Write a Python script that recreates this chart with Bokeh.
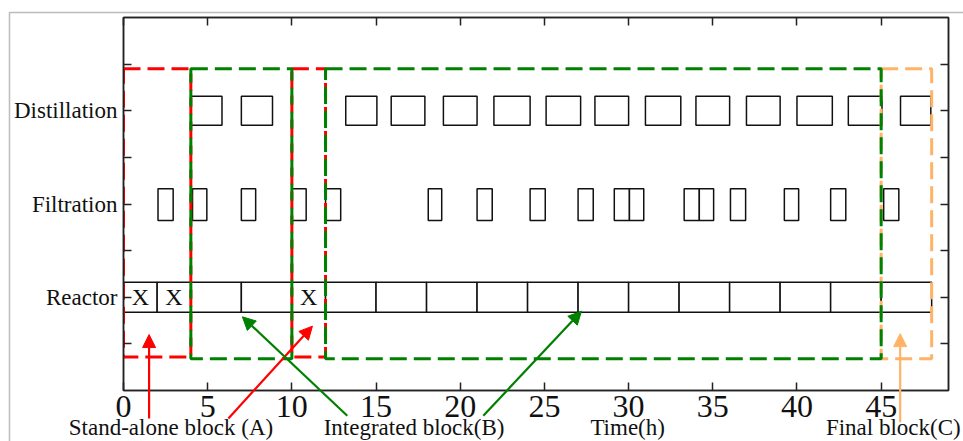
from bokeh.plotting import figure
from bokeh.models import (ColumnDataSource, FixedTicker, LinearAxis, Range1d,
                          Arrow, NormalHead, Label, BoxAnnotation)
from bokeh.core.properties import value
from bokeh.embed import file_html
from bokeh.resources import INLINE

FONT = "Liberation Serif"

# ---- data -------------------------------------------------------------
units = ["Reactor", "Filtration", "Distillation"]
unit_level = [1, 2, 3]

reactor_start = [0, 2, 4, 7, 10, 12, 15, 18, 21, 24, 27, 30, 33, 36, 39, 42, 45]
reactor_end = [2, 4, 7, 10, 12, 15, 18, 21, 24, 27, 30, 33, 36, 39, 42, 45, 48]
reactor_mark = ["X", "X", "", "", "X", "", "", "", "", "", "", "", "", "", "", "", ""]

filtration_start = [2.05, 4.1, 7.0, 10.0, 12.0, 18.1, 21.0, 24.15, 27.0, 29.15,
                    30.05, 33.3, 34.2, 36.05, 39.25, 42.0, 45.15]
filtration_end = [2.95, 4.95, 7.85, 10.85, 12.9, 18.9, 21.9, 25.05, 27.9, 30.05,
                  30.9, 34.2, 35.05, 36.95, 40.1, 42.9, 46.05]

distillation_start = [4.0, 7.0, 13.2, 15.9, 19.0, 22.0, 25.1, 28.0, 31.0, 34.0,
                      37.0, 40.0, 43.05, 46.15]
distillation_end = [5.85, 8.85, 15.05, 17.9, 21.0, 24.15, 27.15, 30.0, 33.1, 36.0,
                    39.0, 42.1, 45.05, 47.95]

block_kind = ["A", "A", "B", "B", "C"]
block_start = [0, 10, 4, 12, 45]
block_end = [4, 12, 10, 45, 48]

x_ticks = [0, 5, 10, 15, 20, 25, 30, 35, 40, 45]
y_ticks = [0.5, 1, 1.5, 2, 2.5, 3, 3.5]

note_text = ["Stand-alone block (A)", "Integrated block(B)", "Time(h)", "Final block(C)"]
note_x = [-3.25, 11.89, 27.73, 41.72]
note_y = [-0.535, -0.535, -0.535, -0.535]

arrow_kind = ["A", "A", "B", "B", "C"]
arrow_x0 = [1.52, 6.23, 13.29, 21.37, 46.13]
arrow_y0 = [-0.30, -0.30, -0.27, -0.27, -0.34]
arrow_x1 = [1.52, 11.22, 7.06, 27.2, 46.13]
arrow_y1 = [0.60, 0.69, 0.79, 0.85, 0.61]

# ---- styles / layout ----------------------------------------------------
KIND_COLOR = {"A": "#ff0000", "B": "#008000", "C": "#ffb366"}
HALF_H = {1: 0.16, 2: 0.17, 3: 0.156}
CENTER = {1: 1.0, 2: 1.994, 3: 3.0}

W, H = 963, 441
BL, BR, BT, BB = 123, 15, 17, 51
X0, X1, Y0, Y1 = 0.0, 49.0, 0.0, 4.0

p = figure(width=W, height=H, output_backend="svg", toolbar_location=None,
           x_range=Range1d(X0, X1), y_range=Range1d(Y0, Y1),
           min_border_left=BL, min_border_right=BR, min_border_top=BT,
           min_border_bottom=BB)
p.xgrid.visible = False
p.ygrid.visible = False
p.outline_line_color = "#222222"
p.outline_line_width = 1.5
p.background_fill_color = "white"
p.border_fill_color = "white"


def style_axis(ax, labels=True):
    ax.major_tick_in = 8
    ax.major_tick_out = 0
    ax.minor_tick_in = 0
    ax.minor_tick_out = 0
    ax.axis_line_color = "#222222"
    ax.axis_line_width = 1.5
    ax.major_tick_line_color = "#222222"
    ax.major_tick_line_width = 1.5
    ax.major_label_text_font = FONT
    ax.major_label_text_color = "#111111"
    if not labels:
        ax.major_label_text_font_size = "1px"
        ax.major_label_text_alpha = 0
        ax.major_label_standoff = 0


xa = p.xaxis[0]
xa.ticker = FixedTicker(ticks=x_ticks)
style_axis(xa)
xa.major_label_text_font_size = "32px"
xa.major_label_standoff = 5

ya = p.yaxis[0]
ya.ticker = FixedTicker(ticks=y_ticks)
style_axis(ya)
ya.major_label_text_font_size = "23px"
ya.major_label_standoff = 6
overrides = {float(t): "" for t in y_ticks}
for u, lv in zip(units, unit_level):
    overrides[float(lv)] = u
ya.major_label_overrides = overrides

top = LinearAxis(ticker=FixedTicker(ticks=x_ticks))
style_axis(top, labels=False)
p.add_layout(top, "above")
right = LinearAxis(ticker=FixedTicker(ticks=y_ticks))
style_axis(right, labels=False)
p.add_layout(right, "right")


def boxes(starts, ends, level):
    src = ColumnDataSource(dict(
        left=starts, right=ends,
        bottom=[CENTER[level] - HALF_H[level]] * len(starts),
        top=[CENTER[level] + HALF_H[level]] * len(starts)))
    p.quad(left="left", right="right", bottom="bottom", top="top", source=src,
           fill_color="white", line_color="#111111", line_width=1.5)


boxes(reactor_start, reactor_end, 1)
boxes(filtration_start, filtration_end, 2)
boxes(distillation_start, distillation_end, 3)

mx = [(s + e) / 2 for s, e, m in zip(reactor_start, reactor_end, reactor_mark) if m]
mt = [m for m in reactor_mark if m]
p.text(x=mx, y=[1.0] * len(mx), text=mt, text_font=value(FONT),
       text_font_size="24px", text_align="center", text_baseline="middle",
       text_color="#111111")

BLOCK_Y = {"A": (0.36, 3.45), "B": (0.34, 3.45), "C": (0.34, 3.45)}
for kind in ["C", "A", "B"]:
    idx = [i for i, k in enumerate(block_kind) if k == kind]
    p.quad(left=[block_start[i] for i in idx], right=[block_end[i] for i in idx],
           bottom=[BLOCK_Y[kind][0]] * len(idx), top=[BLOCK_Y[kind][1]] * len(idx),
           fill_color=None, line_color=KIND_COLOR[kind], line_width=3,
           line_dash="17 7")

# ---- transparent overlay (separate root) sharing the same data mapping,
#      for the arrows and notes that reach outside the axes frame ----------
sx = (W - BL - BR) / (X1 - X0)
sy = (H - BT - BB) / (Y1 - Y0)
q = figure(width=W, height=H, output_backend="svg", toolbar_location=None,
           x_axis_type=None, y_axis_type=None,
           x_range=Range1d(X0 - BL / sx, X1 + BR / sx),
           y_range=Range1d(Y0 - BB / sy, Y1 + BT / sy),
           min_border=0, min_border_left=0, min_border_right=0,
           min_border_top=0, min_border_bottom=0)
q.xgrid.visible = False
q.ygrid.visible = False
q.outline_line_color = None
q.background_fill_color = None
q.border_fill_color = None
q.margin = (-H, 0, 0, 0)

# outer border of the embedded picture
q.add_layout(BoxAnnotation(left=9, right=W + 50, top=12, bottom=H + 50,
                           left_units="canvas", right_units="canvas",
                           top_units="canvas", bottom_units="canvas",
                           fill_alpha=0, fill_color=None,
                           line_color="#222222", line_width=1.5))

for k, x0, y0, x1, y1 in zip(arrow_kind, arrow_x0, arrow_y0, arrow_x1, arrow_y1):
    c = KIND_COLOR[k]
    q.add_layout(Arrow(x_start=x0, y_start=y0, x_end=x1, y_end=y1,
                       line_color=c, line_width=2.2,
                       end=NormalHead(size=13, fill_color=c, line_color=c,
                                      line_width=1)))

for t, x, y in zip(note_text, note_x, note_y):
    q.add_layout(Label(x=x, y=y, text=t, text_font=FONT, text_font_size="23px",
                       text_color="#111111", text_baseline="bottom",
                       text_align="left"))

open("out.html", "w").write(file_html([p, q], INLINE))
